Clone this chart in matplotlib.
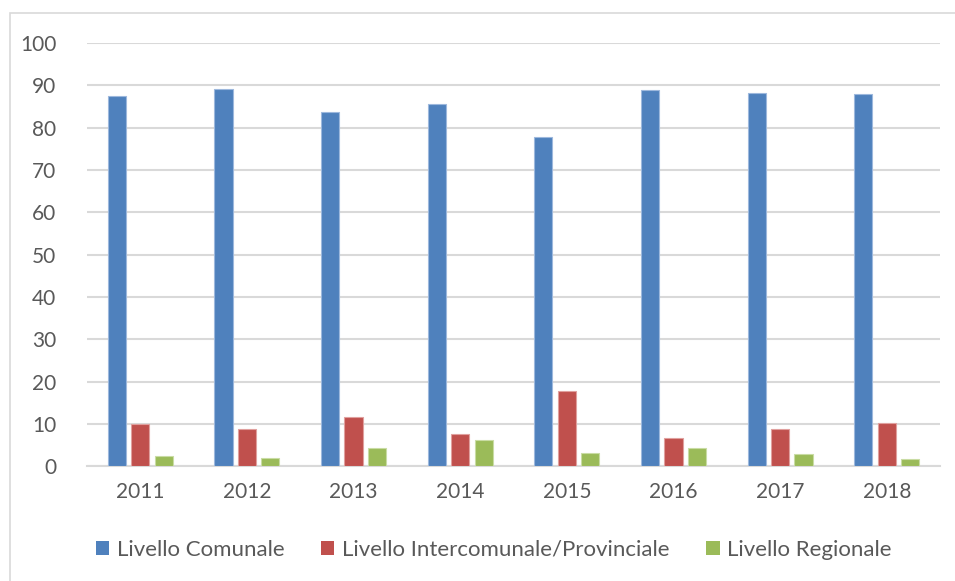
import matplotlib
matplotlib.use("Agg")
import matplotlib.pyplot as plt
import numpy as np
from matplotlib.patches import Rectangle

years = ["2011", "2012", "2013", "2014", "2015", "2016", "2017", "2018"]
comunale = [87.4, 89.2, 83.6, 85.6, 77.9, 88.8, 88.2, 87.9]
intercomunale = [10.0, 8.7, 11.7, 7.6, 17.7, 6.8, 8.8, 10.2]
regionale = [2.4, 2.0, 4.3, 6.1, 3.2, 4.3, 2.8, 1.7]
series_names = ["Livello Comunale", "Livello Intercomunale/Provinciale", "Livello Regionale"]
colors = ["#4F81BD", "#C0504D", "#9BBB59"]
edges = ["#9DB8DD", "#E0A09E", "#C9DCA4"]

plt.rcParams['font.family'] = ['Lato', 'DejaVu Sans']
text_color = "#595959"

fig = plt.figure(figsize=(9.55, 5.81), dpi=100)
# outer border
fig.patches.append(Rectangle((10/955, -0.1), 1.2, (581-13)/581 + 0.1, transform=fig.transFigure,
                             fill=False, edgecolor="#D9D9D9", linewidth=1.2))
ax = fig.add_axes([87/955, (581-466.3)/581, (940-87)/955, (466.3-43)/581])

x = np.arange(len(years))
w = 0.17
step = 0.22
for i, (vals, c, e, n) in enumerate(zip([comunale, intercomunale, regionale], colors, edges, series_names)):
    ax.bar(x + (i - 1) * step, vals, width=w, color=c, edgecolor=e, linewidth=0.8, label=n, zorder=3)

ax.set_xlim(-0.5, len(years) - 0.5)
ax.set_ylim(0, 100)
ax.set_yticks(range(0, 101, 10))
ax.set_xticks(x)
ax.set_xticklabels(years)
ax.grid(axis='y', color="#D9D9D9", linewidth=1.5, zorder=0)
for s in ["top", "right", "left"]:
    ax.spines[s].set_visible(False)
ax.spines["bottom"].set_color("#D9D9D9")
ax.spines["bottom"].set_linewidth(1.5)
ax.tick_params(axis='both', length=0, colors=text_color, labelsize=15)
ax.tick_params(axis='x', pad=11)
ax.tick_params(axis='y', pad=22)

leg = fig.legend(loc="center", bbox_to_anchor=(0.517, (581-550)/581), ncol=3, frameon=False,
                 fontsize=16, handlelength=0.6, handleheight=0.6, handletextpad=0.35,
                 columnspacing=1.65, labelcolor=text_color)
for h in leg.legend_handles:
    h.set_edgecolor("none")

fig.savefig("out.png", dpi=100)
